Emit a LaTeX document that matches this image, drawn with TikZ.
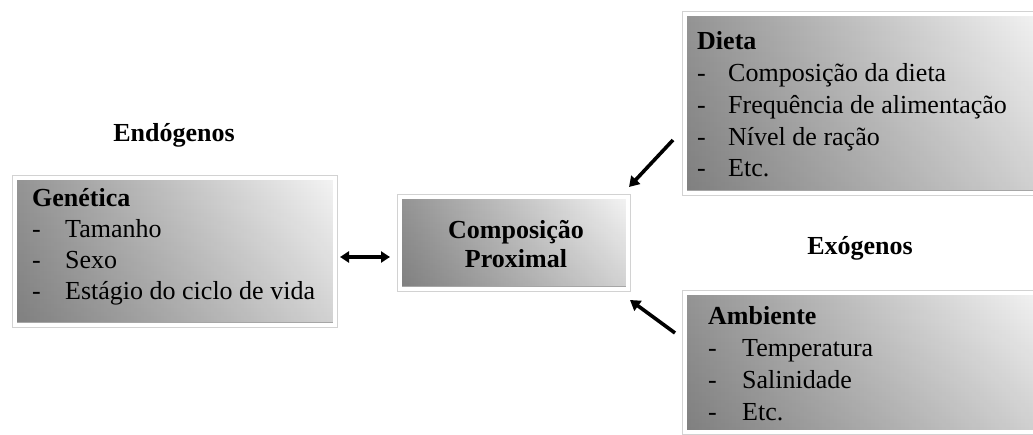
\documentclass[tikz,border=0pt]{standalone}
\usepackage{fontspec}
\setmainfont{Liberation Serif}
\usetikzlibrary{arrows.meta,shadows,fadings}
\definecolor{boxdark}{RGB}{148,148,148}
\definecolor{boxlight}{RGB}{244,244,244}
\begin{document}
\begin{tikzpicture}[x=1pt,y=-1pt,
  box/.style={rectangle, inner sep=0pt,
    drop shadow={shadow xshift=1.5pt, shadow yshift=-2.5pt, fill=black, opacity=0.22},
    preaction={draw=gray!35, line width=5.5pt},
    draw=white, line width=4pt, fill=boxlight,
    path picture={
      \shade[left color=boxdark, right color=boxlight]
        (path picture bounding box.south west) rectangle (path picture bounding box.north east);
      \fill[black, fill opacity=0.14, path fading=north]
        (path picture bounding box.south west) rectangle (path picture bounding box.north east);
      \fill[gray!70] (path picture bounding box.south west) rectangle ([yshift=2.5pt]path picture bounding box.south east);}},
  txt/.style={inner sep=0pt, anchor=base west},
  head/.style={inner sep=0pt, anchor=base, font=\fontsize{26}{31}\selectfont\bfseries},
  arr/.style={line width=3.6pt, -{Triangle[length=10pt,width=12pt]}},
  dbl/.style={line width=3.4pt, {Triangle[length=9pt,width=11pt]}-{Triangle[length=9pt,width=11pt]}}
]
\clip (0,0) rectangle (1033,435);
\fill[white] (0,0) rectangle (1033,435);

% boxes
\node[box, minimum width=320pt, minimum height=147pt] (gen) at (175,251.5) {};
\node[box, minimum width=228pt, minimum height=92pt] (comp) at (514,243) {};
\node[box, minimum width=360pt, minimum height=179pt] (dieta) at (865,103.5) {};
\node[box, minimum width=360pt, minimum height=139pt] (amb) at (865,362.5) {};

% texts
\node[txt, font=\fontsize{26}{31}\selectfont] (gent) at (32,207)
  {\begin{tabular}[t]{@{}p{33pt}@{}l@{}}\multicolumn{2}{@{}l@{}}{\textbf{Genética}}\\
   -&Tamanho\\ -&Sexo\\ -&Estágio do ciclo de vida\end{tabular}};
\node[inner sep=0pt, anchor=base, font=\fontsize{26}{29}\selectfont\bfseries] (compt) at (516,239)
  {\begin{tabular}[t]{@{}c@{}}Composição\\Proximal\end{tabular}};
\node[txt, font=\fontsize{26}{31.75}\selectfont] (dietat) at (697,50)
  {\begin{tabular}[t]{@{}p{31pt}@{}l@{}}\multicolumn{2}{@{}l@{}}{\textbf{Dieta}}\\
   -&Composição da dieta\\ -&Frequência de alimentação\\ -&Nível de ração\\ -&Etc.\end{tabular}};
\node[txt, font=\fontsize{26}{32}\selectfont] (ambt) at (708,325)
  {\begin{tabular}[t]{@{}p{34pt}@{}l@{}}\multicolumn{2}{@{}l@{}}{\textbf{Ambiente}}\\
   -&Temperatura\\ -&Salinidade\\ -&Etc.\end{tabular}};

\node[head] (endo) at (174,142) {Endógenos};
\node[head] (exo) at (860,255) {Exógenos};

% connectors
\draw[dbl, shorten <=3pt, shorten >=8pt] (gen.east |- 0,257) -- (comp.west |- 0,257);
\draw[arr] ([xshift=-10pt,yshift=55pt]dieta.south west) -- ([xshift=-1pt,yshift=8pt]comp.north east);
\draw[arr] ([xshift=-8pt,yshift=-42pt]amb.north west) -- ([yshift=-9pt]comp.south east);
\end{tikzpicture}
\end{document}
